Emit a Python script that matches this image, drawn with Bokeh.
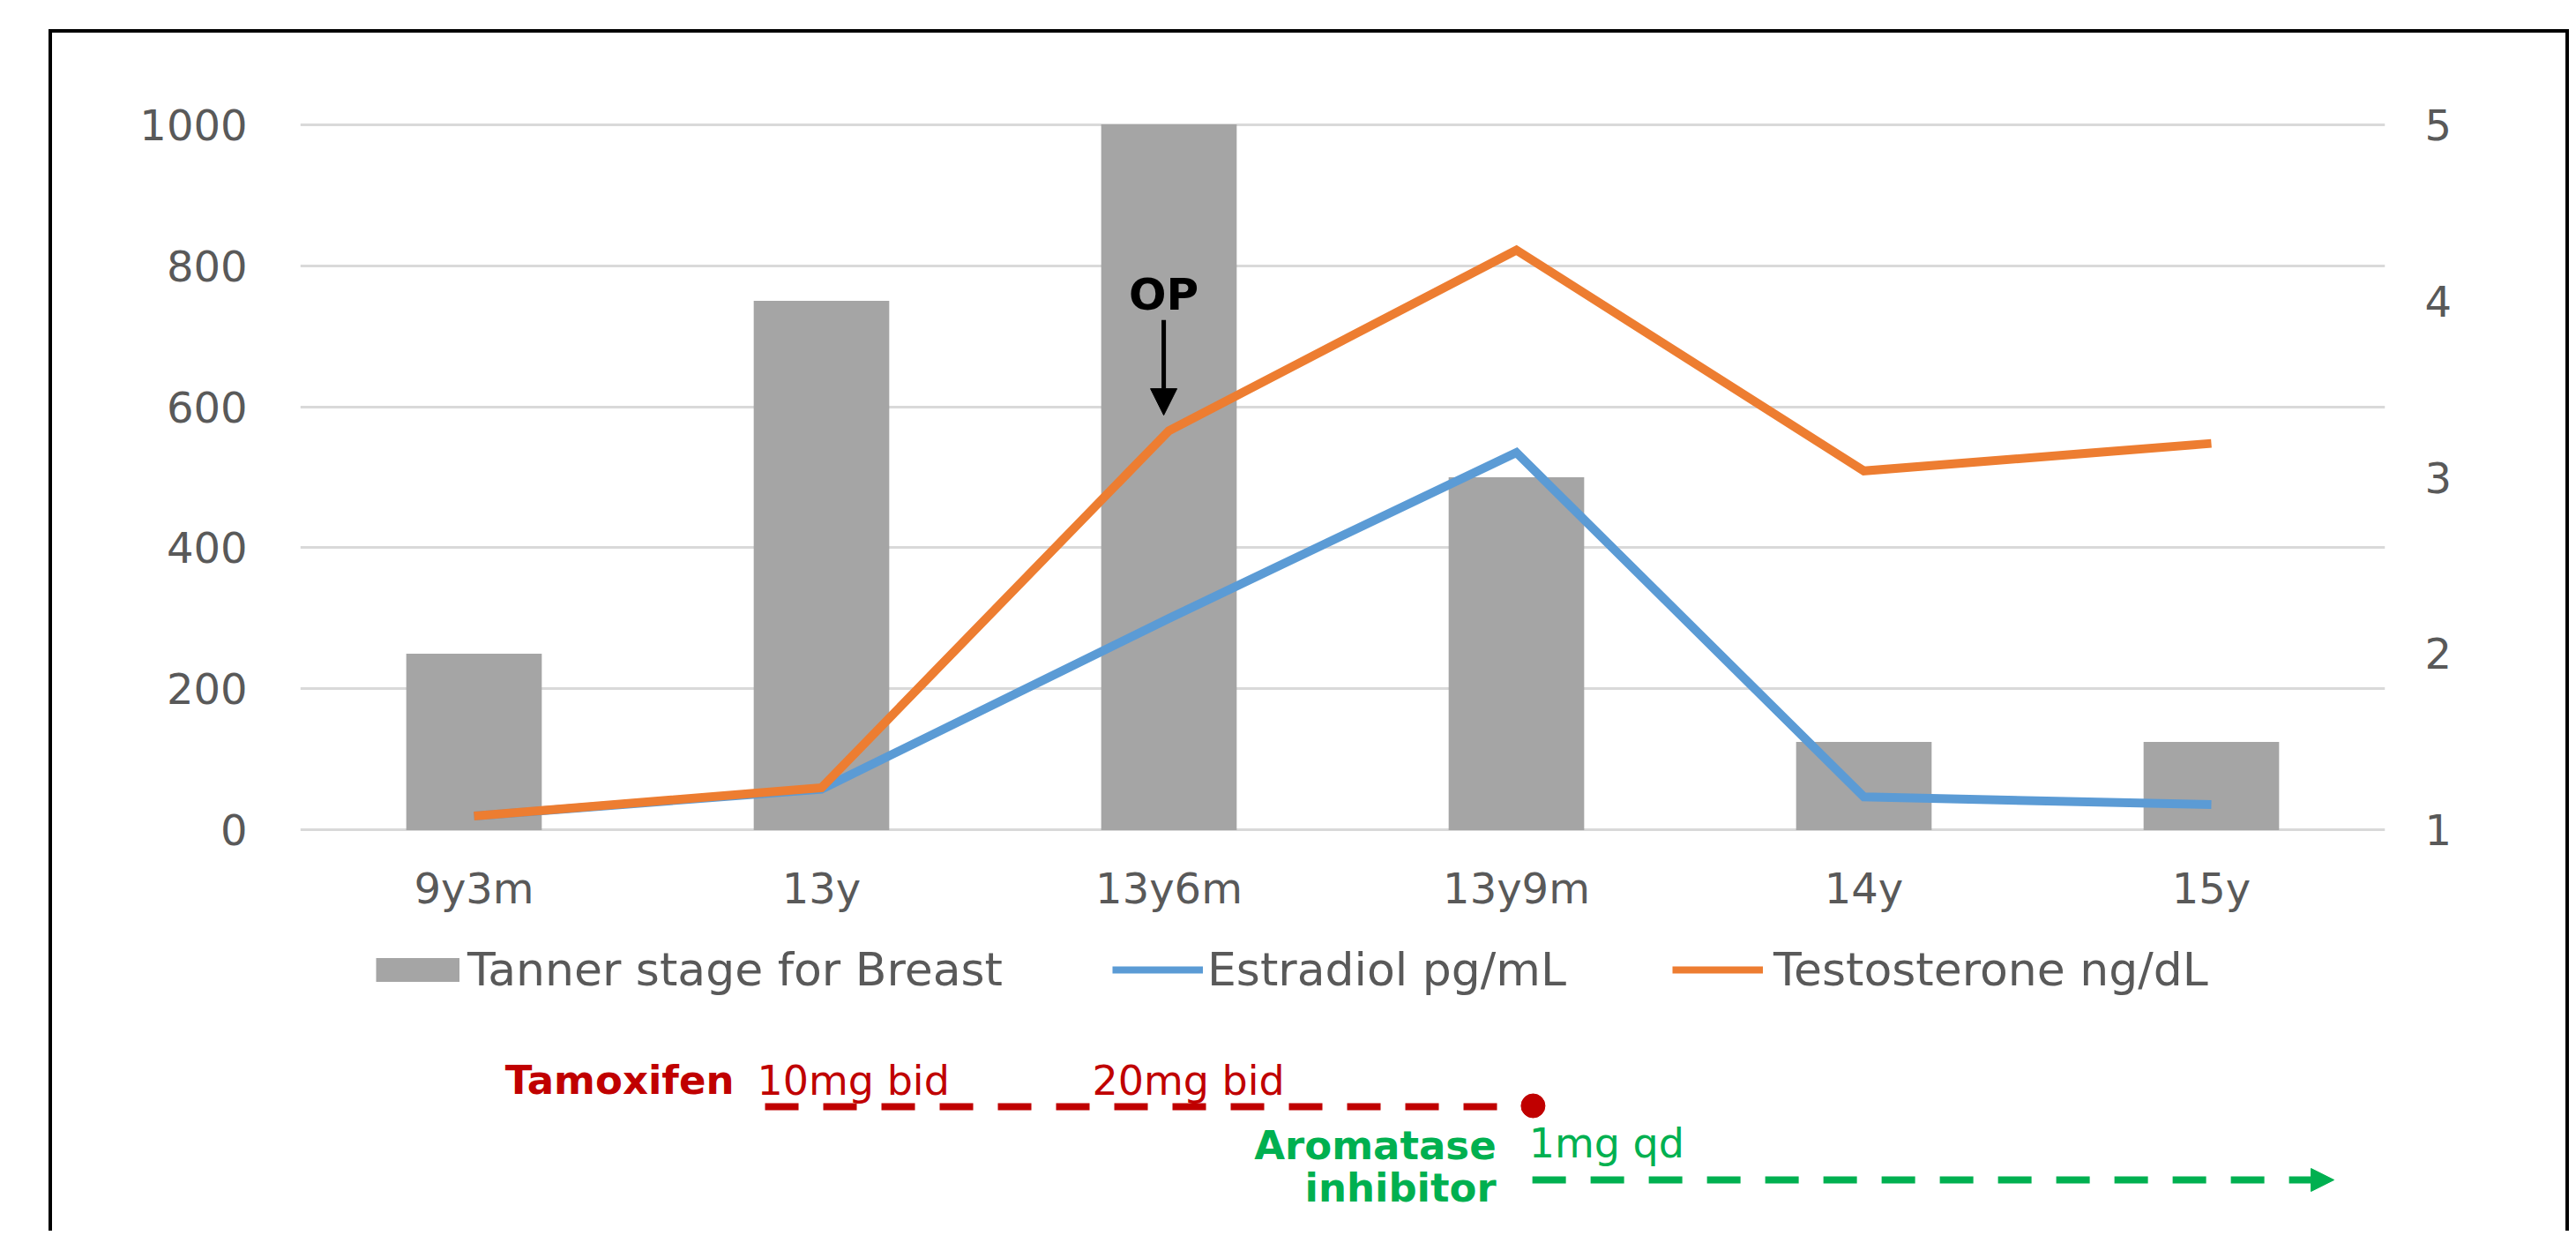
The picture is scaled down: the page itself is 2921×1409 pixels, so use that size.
from bokeh.plotting import figure
from bokeh.models import (Range1d, LinearAxis, FixedTicker, Legend, LegendItem,
                          Arrow, NormalHead)
from bokeh.layouts import column
from bokeh.embed import file_html
from bokeh.resources import INLINE
from bokeh.core.properties import value

# ---------------- data ----------------
categories = ["9y3m", "13y", "13y6m", "13y9m", "14y", "15y"]
tanner_stage = [2, 4, 5, 3, 1.5, 1.5]
estradiol = [20, 58, 300, 535, 47, 36]
testosterone = [20, 60, 566, 822, 509, 548]
left_ticks = [0, 200, 400, 600, 800, 1000]
right_ticks = [1, 2, 3, 4, 5]
legend_labels = ["Tanner stage for Breast", "Estradiol pg/mL", "Testosterone ng/dL"]

# ---------------- style ----------------
FONT = "DejaVu Sans"
TXT = "#595959"
BAR = "#A5A5A5"
BLUE = "#5B9BD5"
ORANGE = "#ED7D31"
RED = "#C00000"
GREEN = "#00B050"
GRID = "#D9D9D9"

W = 2850
ML, MR = 281, 205
TY = -17  # text baseline correction (px)

# ---------------- main chart ----------------
p1 = figure(x_range=categories, y_range=Range1d(-2, 1002), width=W, height=1013,
            output_backend="svg", toolbar_location=None,
            min_border_left=ML, min_border_right=MR, min_border_top=102,
            min_border_bottom=108)
p1.extra_y_ranges = {"tanner": Range1d(1 - 2 / 250, 1 + 1002 / 250)}
p1.background_fill_color = None
p1.border_fill_color = None
p1.outline_line_color = None

p1.vbar(x=categories, top=tanner_stage, bottom=1, width=0.39,
        y_range_name="tanner", fill_color=BAR, line_color=None)
p1.line(x=categories, y=estradiol, line_width=10, line_color=BLUE, line_join="miter")
p1.line(x=categories, y=testosterone, line_width=10, line_color=ORANGE, line_join="miter")

# OP annotation (category units on x, left-axis units on y)
p1.text(x=[2.485], y=[759], text=["OP"], text_font=value(FONT), text_font_style="bold",
        text_font_size="50px", text_align="center", text_baseline="alphabetic",
        text_color="black")
p1.add_layout(Arrow(end=NormalHead(size=30, fill_color="black", line_color="black"),
                    x_start=2.485, y_start=723, x_end=2.485, y_end=588,
                    line_width=5, line_color="black"))

p1.yaxis.ticker = FixedTicker(ticks=left_ticks)
p1.ygrid.ticker = FixedTicker(ticks=left_ticks)
p1.ygrid.grid_line_color = GRID
p1.ygrid.grid_line_width = 3
p1.xgrid.grid_line_color = None

ax_r = LinearAxis(y_range_name="tanner", ticker=FixedTicker(ticks=right_ticks))
p1.add_layout(ax_r, "right")

for ax, so in [(p1.yaxis[0], 60), (ax_r, 45)]:
    ax.axis_line_color = None
    ax.major_tick_line_color = None
    ax.minor_tick_line_color = None
    ax.major_tick_out = 0
    ax.major_tick_in = 0
    ax.major_label_standoff = so
    ax.major_label_text_font = FONT
    ax.major_label_text_font_size = "48px"
    ax.major_label_text_color = TXT

xa = p1.xaxis[0]
xa.axis_line_color = None
xa.major_tick_line_color = None
xa.minor_tick_line_color = None
xa.major_tick_out = 0
xa.major_tick_in = 0
xa.major_label_standoff = 36
xa.major_label_text_font = FONT
xa.major_label_text_font_size = "48px"
xa.major_label_text_color = TXT

# ---------------- legend + treatment timeline ----------------
H2 = 345
p2 = figure(x_range=Range1d(0, len(categories)), y_range=Range1d(H2, 0),
            width=W, height=H2, output_backend="svg", toolbar_location=None,
            x_axis_location=None, y_axis_location=None,
            min_border_left=ML, min_border_right=MR, min_border_top=0,
            min_border_bottom=0)
p2.grid.visible = False
p2.background_fill_color = None
p2.border_fill_color = None
p2.outline_line_color = None

# legend proxies (off-screen data)
proxy_bar = p2.line([-2, -1], [-50, -50], line_width=27, line_color=BAR, line_cap="butt")
proxy_e = p2.line([-2, -1], [-50, -50], line_width=8, line_color=BLUE)
proxy_t = p2.line([-2, -1], [-50, -50], line_width=8, line_color=ORANGE)

for lab, r, lx, gw, so in [(legend_labels[0], proxy_bar, 86, 95, 9),
                           (legend_labels[1], proxy_e, 921, 103, 5),
                           (legend_labels[2], proxy_t, 1556, 103, 12)]:
    leg = Legend(items=[LegendItem(label=value(lab), renderers=[r])],
                 location=(lx, 261), orientation="horizontal",
                 glyph_width=gw, glyph_height=70, label_height=70,
                 label_standoff=so, padding=0, margin=0, spacing=0,
                 border_line_color=None, background_fill_alpha=0,
                 label_text_font=FONT, label_text_font_size="52px",
                 label_text_color=TXT)
    p2.add_layout(leg)

# Tamoxifen
p2.text(x=[1.2487], y=[191 + TY], text=["Tamoxifen"], text_align="right",
        text_baseline="alphabetic", text_font=value(FONT), text_font_style="bold",
        text_font_size="45px", text_color=RED)
p2.text(x=[1.3147, 2.279], y=[191 + TY, 191 + TY], text=["10mg bid", "20mg bid"],
        text_align="left", text_baseline="alphabetic", text_font=value(FONT),
        text_font_size="46px", text_color=RED)
p2.segment(x0=[1.3376], y0=[204], x1=[3.548], y1=[204], line_color=RED,
           line_width=8, line_dash="38 28")
p2.scatter(x=[3.548], y=[203], size=27, marker="circle", fill_color=RED, line_color=RED)

# Aromatase inhibitor
p2.text(x=[3.442, 3.442], y=[265 + TY, 313 + TY], text=["Aromatase", "inhibitor"],
        text_align="right", text_baseline="alphabetic", text_font=value(FONT),
        text_font_style="bold", text_font_size="45px", text_color=GREEN)
p2.text(x=[3.536], y=[262 + TY], text=["1mg qd"], text_align="left",
        text_baseline="alphabetic", text_font=value(FONT), text_font_size="46px",
        text_color=GREEN)
p2.add_layout(Arrow(end=NormalHead(size=26, fill_color=GREEN, line_color=GREEN),
                    x_start=3.546, y_start=287, x_end=5.853, y_end=287,
                    line_color=GREEN, line_width=8, line_dash="38 28"))

layout = column(p1, p2, margin=(33, 0, 0, 55),
                styles={"border-top": "4px solid black",
                        "border-left": "4px solid black",
                        "border-right": "4px solid black"})

open("out.html", "w").write(file_html(layout, INLINE))
